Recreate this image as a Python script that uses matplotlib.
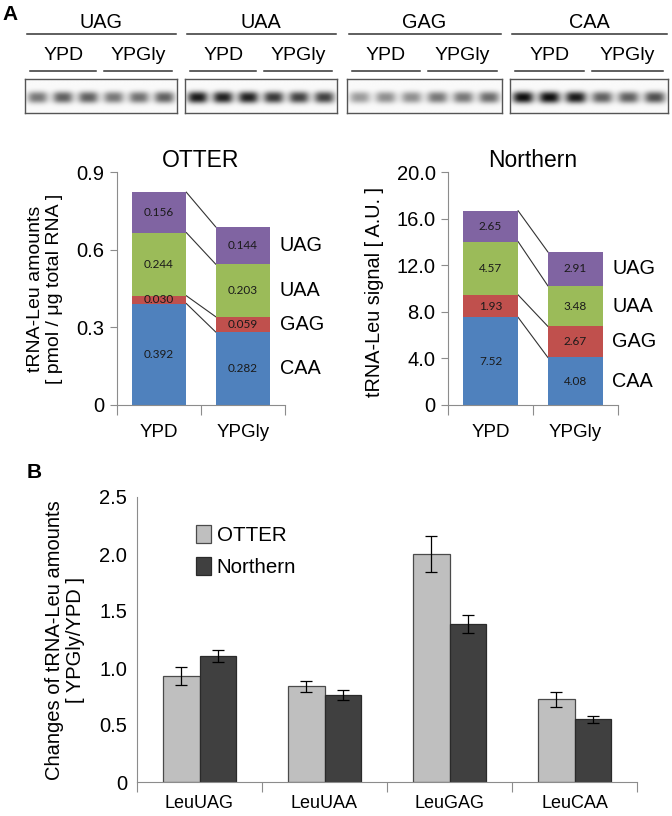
import numpy as np
import matplotlib
matplotlib.use("Agg")
import matplotlib.pyplot as plt

plt.rcParams['font.family'] = ['Liberation Sans', 'DejaVu Sans']

# ---------------- data ----------------
codons = ["UAG", "UAA", "GAG", "CAA"]
conditions = ["YPD", "YPGly"]
# gel band intensities (relative darkness), 3 lanes YPD + 3 lanes YPGly
gel_UAG = [0.55, 0.65, 0.65, 0.55, 0.58, 0.65]
gel_UAA = [0.95, 0.92, 0.92, 0.82, 0.78, 0.78]
gel_GAG = [0.40, 0.45, 0.45, 0.55, 0.55, 0.60]
gel_CAA = [1.00, 1.00, 0.95, 0.65, 0.65, 0.72]

stack_order = ["CAA", "GAG", "UAA", "UAG"]          # bottom -> top
otter_YPD   = [0.392, 0.030, 0.244, 0.156]
otter_YPGly = [0.282, 0.059, 0.203, 0.144]
otter_lbl_YPD   = ["0.392", "0.030", "0.244", "0.156"]
otter_lbl_YPGly = ["0.282", "0.059", "0.203", "0.144"]
north_YPD   = [7.52, 1.93, 4.57, 2.65]
north_YPGly = [4.08, 2.67, 3.48, 2.91]
north_lbl_YPD   = ["7.52", "1.93", "4.57", "2.65"]
north_lbl_YPGly = ["4.08", "2.67", "3.48", "2.91"]
otter_ticks = [0, 0.3, 0.6, 0.9]
otter_ticklabels = ["0", "0.3", "0.6", "0.9"]
north_ticks = [0, 4, 8, 12, 16, 20]
north_ticklabels = ["0", "4.0", "8.0", "12.0", "16.0", "20.0"]

b_categories = ["LeuUAG", "LeuUAA", "LeuGAG", "LeuCAA"]
b_otter = [0.93, 0.84, 2.00, 0.725]
b_otter_err = [0.075, 0.05, 0.155, 0.068]
b_north = [1.105, 0.76, 1.385, 0.55]
b_north_err = [0.055, 0.045, 0.08, 0.03]
b_ticks = [0, 0.5, 1.0, 1.5, 2.0, 2.5]
b_ticklabels = ["0", "0.5", "1.0", "1.5", "2.0", "2.5"]

seg_colors = ["#4F81BD", "#C0504D", "#9BBB59", "#8064A2"]
axis_gray = "#8C8C8C"

W, H = 672, 816
fig = plt.figure(figsize=(W / 100, H / 100), dpi=100)

def px_axes(x0, y0, x1, y1, **kw):
    return fig.add_axes([x0 / W, 1 - y1 / H, (x1 - x0) / W, (y1 - y0) / H], **kw)

# overlay for header annotations and axis titles
ov = px_axes(0, 0, W, H)
ov.set_xlim(0, W); ov.set_ylim(H, 0); ov.axis("off")

ov.text(10, 15, "A", fontsize=15, fontweight="bold", ha="center", va="center")
ov.text(34, 472, "B", fontsize=15, fontweight="bold", ha="center", va="center")

gel_boxes = [(25, 177), (185, 337), (347, 502), (510, 668)]
gel_data = [gel_UAG, gel_UAA, gel_GAG, gel_CAA]
for (x0, x1), cod, inten in zip(gel_boxes, codons, gel_data):
    ov.text((x0 + x1) / 2, 23, cod, fontsize=14.3, ha="center", va="center")
    ov.plot([x0 + 2, x1 - 1], [34, 34], color="#333333", lw=1.1)
    w = x1 - x0
    half = [(x0 + 5, x0 + w * 0.47), (x0 + w * 0.52, x1 - 5)]
    for (a, b), cond in zip(half, conditions):
        ov.text((a + b) / 2, 55, cond, fontsize=14, ha="center", va="center")
        ov.plot([a, b], [71, 71], color="#333333", lw=1.1)
    # gel image
    gax = px_axes(x0, 79, x1, 113)
    ny, nx = 60, 240
    yy, xx = np.mgrid[0:ny, 0:nx]
    xs = (xx + 0.5) / nx * 6.0
    ys = (yy + 0.5) / ny
    img = np.full((ny, nx), 0.02)
    for i, v in enumerate(inten):
        dx = (xs - (i + 0.5)) / 0.40
        dy = (ys - 0.54) / 0.17
        img += v * 0.92 * np.exp(-np.abs(dx) ** 3) * np.exp(-np.abs(dy) ** 2.5)
    gax.imshow(img, cmap="gray_r", vmin=0, vmax=1.0, aspect="auto",
               extent=[0, 6, 1, 0], interpolation="bicubic")
    gax.set_xticks([]); gax.set_yticks([])
    for s in gax.spines.values():
        s.set_color("#555555"); s.set_linewidth(1.0)

# ---------------- stacked charts ----------------
def stacked(ax, ypd, ypg, lbl_ypd, lbl_ypg, ymax, ticks, ticklabels, title):
    w = 0.65
    x = np.arange(2)
    b0 = np.zeros(2)
    tops = []
    for k in range(4):
        vals = np.array([ypd[k], ypg[k]])
        ax.bar(x, vals, w, bottom=b0, color=seg_colors[k], edgecolor="none", zorder=2)
        for j, lab in enumerate([lbl_ypd[k], lbl_ypg[k]]):
            ax.text(x[j], b0[j] + vals[j] / 2, lab, ha="center", va="center",
                    fontsize=8.5, family=["Lato", "DejaVu Sans"], color="#1a1a1a", zorder=3)
        ax.text(1 + w / 2 + 0.11, b0[1] + vals[1] / 2, stack_order[k], ha="left",
                va="center", fontsize=14.3)
        b0 = b0 + vals
        tops.append(b0.copy())
    for t in tops:
        ax.plot([0 + w / 2, 1 - w / 2], [t[0], t[1]], color="#333333", lw=0.8, zorder=1)
    ax.set_xlim(-0.5, 1.5)
    ax.set_ylim(0, ymax)
    ax.set_yticks(ticks)
    ax.set_yticklabels(ticklabels, fontsize=14.5)
    ax.set_xticks([-0.5, 0.5, 1.5])
    ax.set_xticklabels([])
    ax.set_xticks([0, 1], minor=True)
    ax.set_xticklabels(conditions, minor=True, fontsize=13.5)
    ax.tick_params(axis="x", which="minor", length=0, pad=14)
    ax.tick_params(axis="x", which="major", length=7, color=axis_gray)
    ax.tick_params(axis="y", length=5, color=axis_gray, pad=4)
    for s in ["top", "right"]:
        ax.spines[s].set_visible(False)
    for s in ["left", "bottom"]:
        ax.spines[s].set_color(axis_gray)
    ax.set_title(title, fontsize=16.5, pad=3)

ax1 = px_axes(117, 172, 285, 405)
stacked(ax1, otter_YPD, otter_YPGly, otter_lbl_YPD, otter_lbl_YPGly, 0.9,
        otter_ticks, otter_ticklabels, "OTTER")
ov.text(45, 289, "tRNA-Leu amounts\n[ pmol / \u03bcg total RNA ]", rotation=90,
        ha="center", va="center", multialignment="center", fontsize=14,
        linespacing=1.2)
ax2 = px_axes(448, 172, 618, 405)
stacked(ax2, north_YPD, north_YPGly, north_lbl_YPD, north_lbl_YPGly, 20,
        north_ticks, north_ticklabels, "Northern")
ov.text(374, 292, "tRNA-Leu signal [ A.U. ]", rotation=90, ha="center",
        va="center", fontsize=14.3)

# ---------------- panel B ----------------
axb = px_axes(137, 497, 637, 782)
xb = np.arange(len(b_categories))
bw = 0.29
axb.bar(xb - bw / 2, b_otter, bw, color="#BFBFBF", edgecolor="#4a4a4a", lw=0.9,
        label="OTTER", zorder=2)
axb.bar(xb + bw / 2, b_north, bw, color="#404040", edgecolor="#2a2a2a", lw=0.9,
        label="Northern", zorder=2)
axb.errorbar(xb - bw / 2, b_otter, yerr=b_otter_err, fmt="none", ecolor="black",
             elinewidth=0.9, capsize=4, capthick=0.9, zorder=3)
axb.errorbar(xb + bw / 2, b_north, yerr=b_north_err, fmt="none", ecolor="black",
             elinewidth=0.9, capsize=4, capthick=0.9, zorder=3)
axb.set_xlim(-0.5, 3.5)
axb.set_ylim(0, 2.5)
axb.set_yticks(b_ticks)
axb.set_yticklabels(b_ticklabels, fontsize=14.5)
axb.set_xticks(np.arange(-0.5, 4, 1))
axb.set_xticklabels([])
axb.set_xticks(xb, minor=True)
axb.set_xticklabels(b_categories, minor=True, fontsize=13)
axb.tick_params(axis="x", which="minor", length=0, pad=9)
axb.tick_params(axis="x", which="major", length=7, color=axis_gray)
axb.tick_params(axis="y", length=0, pad=7)
for s in ["top", "right"]:
    axb.spines[s].set_visible(False)
for s in ["left", "bottom"]:
    axb.spines[s].set_color(axis_gray)
ov.text(65, 640, "Changes of tRNA-Leu amounts\n[ YPGly/YPD ]", rotation=90,
        ha="center", va="center", multialignment="center", fontsize=14.5,
        linespacing=1.15)
axb.legend(loc="upper left", bbox_to_anchor=(0.102, 0.93), frameon=False,
           fontsize=14.8, handlelength=0.7, handleheight=0.95, handletextpad=0.3,
           labelspacing=0.6, borderaxespad=0)

fig.savefig("out.png", dpi=100)
